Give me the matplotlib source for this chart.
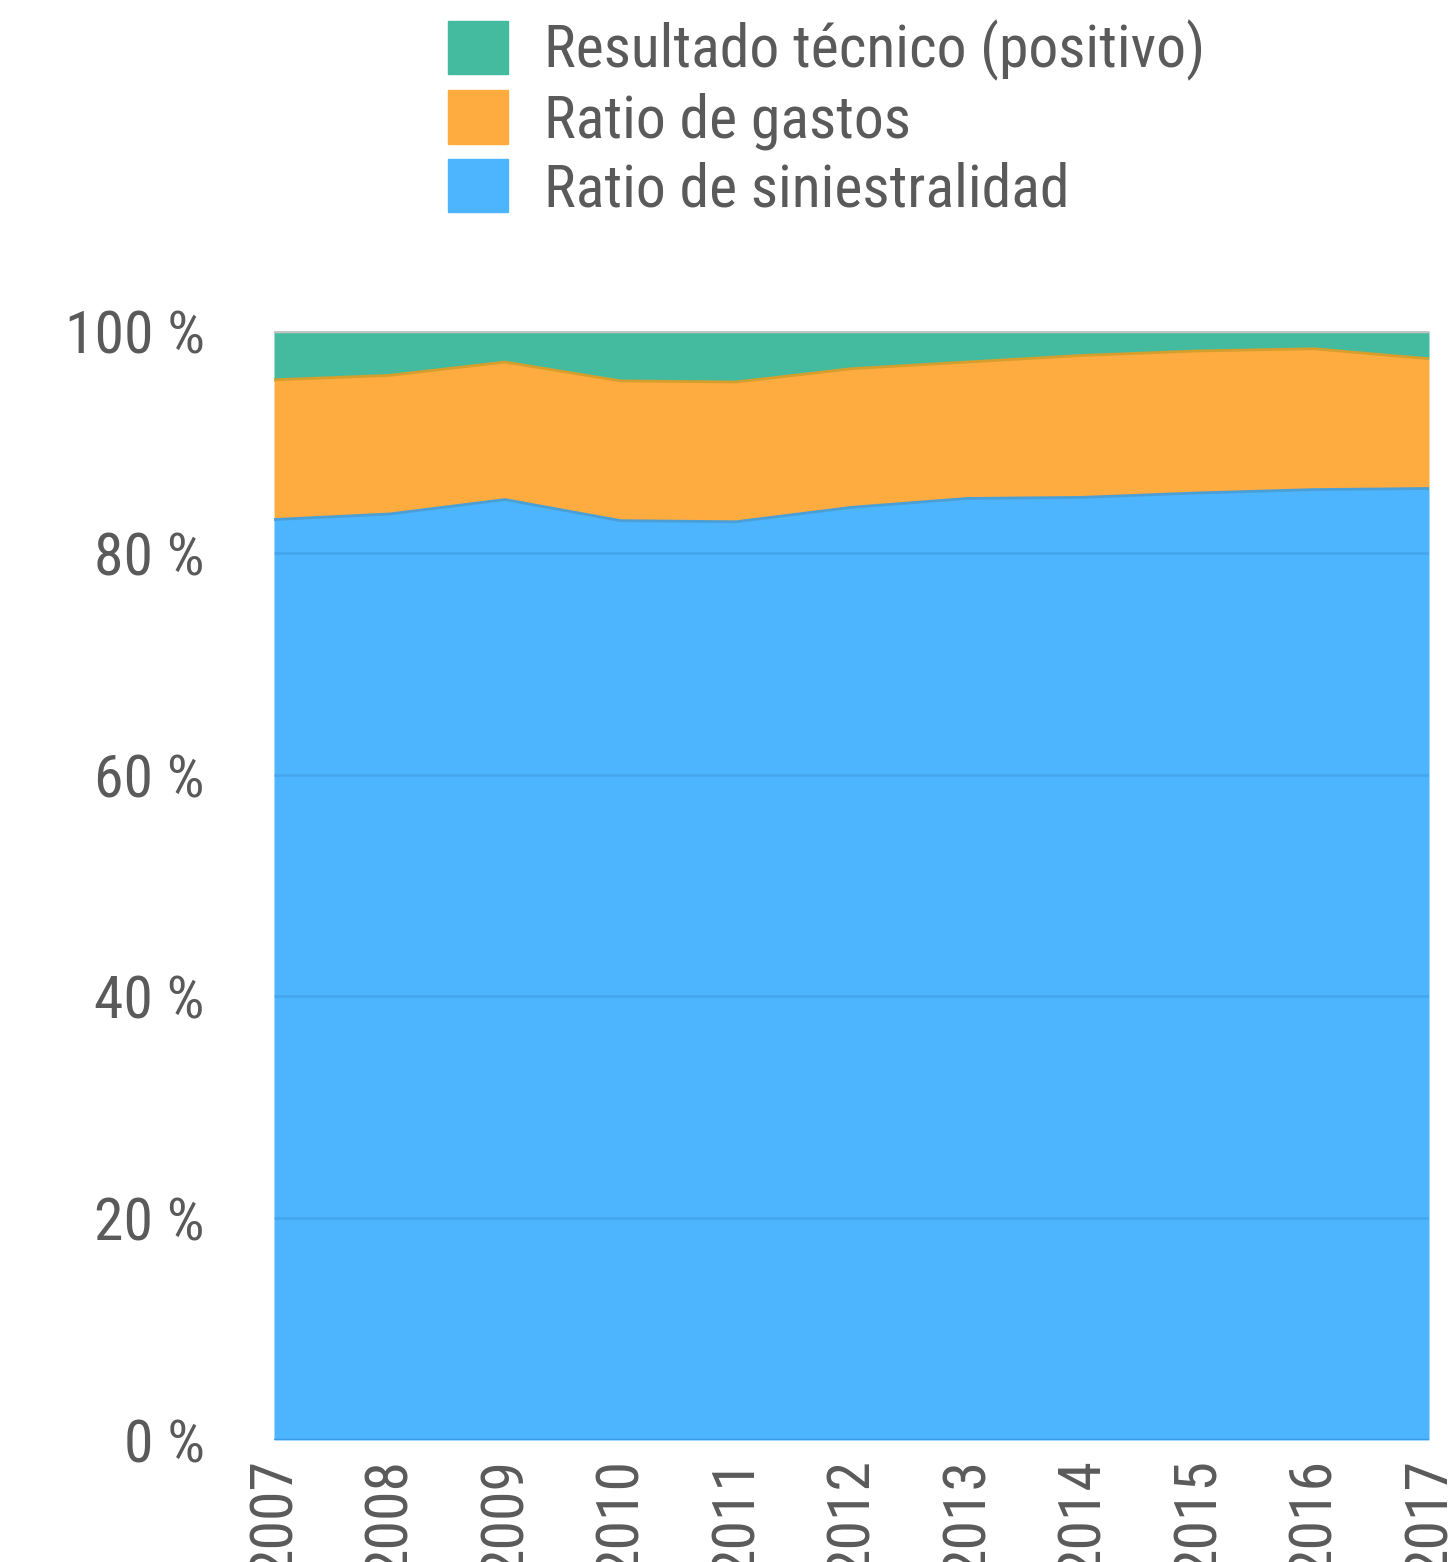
import numpy as np
import matplotlib
matplotlib.use("Agg")
import matplotlib.pyplot as plt
from matplotlib.patches import Patch
from matplotlib import font_manager

# data (percent of premiums)
years = [2007, 2008, 2009, 2010, 2011, 2012, 2013, 2014, 2015, 2016, 2017]
siniestralidad = [83.0, 83.5, 84.8, 82.9, 82.8, 84.1, 84.9, 85.0, 85.4, 85.7, 85.8]
gastos = [12.6, 12.5, 12.4, 12.6, 12.6, 12.5, 12.3, 12.8, 12.8, 12.7, 11.7]
resultado = [4.4, 4.0, 2.8, 4.5, 4.6, 3.4, 2.8, 2.2, 1.8, 1.6, 2.5]

labels = ["Resultado técnico (positivo)", "Ratio de gastos", "Ratio de siniestralidad"]
yticks = [0, 20, 40, 60, 80, 100]

c_blue = "#4db4fe"
c_orange = "#feac40"
c_green = "#44bb9e"

# want something narrow, like the DIN face of the original
have = {f.name for f in font_manager.fontManager.ttflist}
for fam in ["Liberation Sans Narrow", "DejaVu Sans Condensed", "Roboto Condensed", "Roboto", "Lato"]:
    if fam in have:
        break
plt.rcParams["font.family"] = [fam, "DejaVu Sans"]
fs = 43
txt = "#5a5a5a"

fig = plt.figure(figsize=(14.54, 15.62), dpi=100)
ax = fig.add_axes([274 / 1454, (1562 - 1440) / 1562, (1429 - 274) / 1454, (1440 - 331) / 1562])

x = np.array(years)
b = np.array(siniestralidad)
o = b + np.array(gastos)
g = o + np.array(resultado)

ax.fill_between(x, 0, b, color=c_blue, lw=0)
ax.fill_between(x, b, o, color=c_orange, lw=0)
ax.fill_between(x, o, g, color=c_green, lw=0)
ax.plot(x, b, color="#4a9fd6", lw=2)
ax.plot(x, o, color="#d69e2c", lw=2)

# gridlines over the areas
for v in yticks[1:-1]:
    ax.axhline(v, color="#2f7fc0", alpha=0.25, lw=2)
ax.axhline(100, color="#c4c4c4", lw=2.5)
ax.axhline(0, color="#3a9be6", lw=2.5)

ax.set_xlim(years[0], years[-1])
ax.set_ylim(0, 100)
ax.set_xticks(years)
ax.set_xticklabels([str(y) for y in years], rotation=90, fontsize=fs, color=txt)
ax.set_yticks(yticks)
ax.set_yticklabels([f"{v} %" for v in yticks], fontsize=fs, color=txt)
ax.tick_params(axis="y", length=0, pad=50)
ax.tick_params(axis="x", length=0, pad=13)
for s in ax.spines.values():
    s.set_visible(False)

handles = [Patch(color=c_green), Patch(color=c_orange), Patch(color=c_blue)]
fig.legend(handles, labels, loc="upper left", bbox_to_anchor=(448 / 1454, 1 - 20 / 1562),
           frameon=False, fontsize=fs, handlelength=1.0, handleheight=1.0,
           handletextpad=0.6, labelspacing=0.15, borderpad=0, borderaxespad=0,
           labelcolor=txt)

fig.savefig("out.png", dpi=100)
